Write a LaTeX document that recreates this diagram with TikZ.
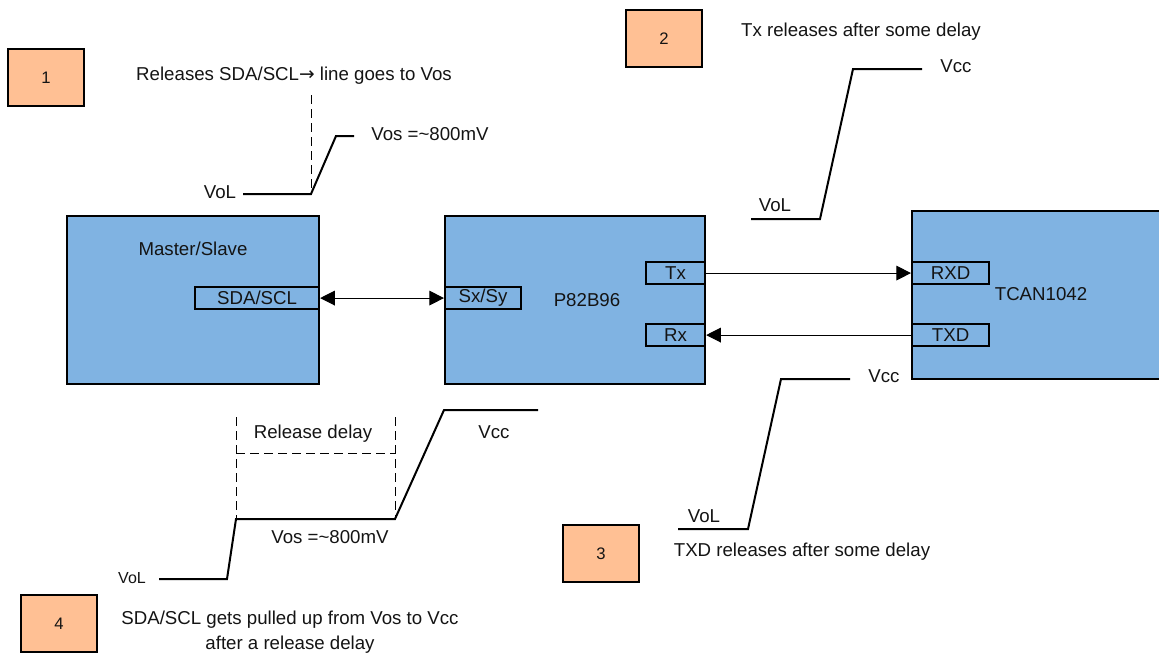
\documentclass[tikz,border=0pt]{standalone}
\usepackage{fontspec}
\setmainfont{Liberation Sans}
\usetikzlibrary{arrows.meta}
\definecolor{blockblue}{RGB}{128,179,226}
\definecolor{tagorange}{RGB}{255,192,148}
\definecolor{inktext}{RGB}{20,20,20}
\tikzset{
 wh/.style 2 args={minimum width=#1*0.75pt,minimum height=#2*0.75pt},
 blk/.style={draw=black,line width=1.5pt,fill=blockblue,inner sep=0,anchor=north west},
 pin/.style={draw=black,line width=1.6pt,fill=blockblue,inner sep=0,anchor=north west,text=inktext,font=\fontsize{14}{16}\selectfont},
 tag/.style={draw=black,line width=1.5pt,fill=tagorange,inner sep=0,anchor=north west,text=inktext,font=\fontsize{12.5}{14}\selectfont},
 lab/.style={inner sep=0,text=inktext,font=\fontsize{14}{16}\selectfont},
 smalllab/.style={inner sep=0,text=inktext,font=\fontsize{12}{14}\selectfont},
 wave/.style={line width=1.5pt,black},
 guide/.style={dash pattern=on 7pt off 3.5pt,line width=0.6pt,black},
 conn/.style={line width=0.8pt,-{Triangle[length=11pt,width=11pt]}},
 connb/.style={line width=0.8pt,{Triangle[length=11pt,width=11pt]}-{Triangle[length=11pt,width=11pt]}},
}
\begin{document}
\begin{tikzpicture}[x=0.75pt,y=-0.75pt]
\useasboundingbox (0,0) rectangle (1159,653);
% blocks
\node[blk,wh={252}{168}] (ms) at (66,215) {};
\node[blk,wh={260}{168}] (p8) at (444,215) {};
\node[blk,wh={262}{168}] (tc) at (911,210) {};
% pins
\node[pin,wh={124}{22}] (sda) at (194,286) {SDA/SCL};
\node[pin,wh={76}{22}] (sx) at (444,286) {Sx/Sy};
\node[pin,wh={59}{22}] (tx) at (645,261) {Tx};
\node[pin,wh={59}{22}] (rx) at (645,323) {Rx};
\node[pin,wh={77}{22}] (rxd) at (911,261) {RXD};
\node[pin,wh={77}{22}] (txd) at (911,323) {TXD};
% connectors
\draw[connb] (sda.east) -- (sx.west);
\draw[conn] (tx.east) -- (rxd.west);
\draw[conn] (txd.west) -- (rx.east);
% number tags
\node[tag,wh={76}{57}] (t1) at (7,48) {1};
\node[tag,wh={76}{57}] (t2) at (625,9) {2};
\node[tag,wh={76}{57}] (t3) at (562,524) {3};
\node[tag,wh={76}{57}] (t4) at (20,594) {4};
% block labels
\node[lab] (lms) at (193,249) {Master/Slave};
\node[lab] (lp8) at (587,300) {P82B96};
\node[lab] (ltc) at (1041,294) {TCAN1042};
% captions
\node[lab] (c1) at (294,76) {Releases SDA/SCL{\fontspec{DejaVu Sans}\fontsize{14}{14}\selectfont →} line goes to Vos};
\node[lab] (c2) at (861,32) {Tx releases after some delay};
\node[lab] (c3) at (802,552) {TXD releases after some delay};
\node[lab,align=center] (c4) at (290,632) {SDA/SCL gets pulled up from Vos to Vcc\\[3pt]after a release delay};
% waveform 1
\coordinate (w1a) at (243,194); \coordinate (w1b) at (311,194);
\coordinate (w1c) at (336,136); \coordinate (w1d) at (354,136);
\coordinate (g1) at (311,95);
\draw[wave] (w1a) -- (w1b) -- (w1c) -- (w1d);
\draw[guide] (g1) -- (w1b);
\node[lab] (v1l) at (220,192) {VoL};
\node[lab] (v1o) at (430,134) {Vos =\textasciitilde800mV};
% waveform 2
\coordinate (w2a) at (751,219); \coordinate (w2b) at (820,219);
\coordinate (w2c) at (853,69); \coordinate (w2d) at (922,69);
\draw[wave] (w2a) -- (w2b) -- (w2c) -- (w2d);
\node[lab] (v2l) at (775,205) {VoL};
\node[lab] (v2c) at (956,66) {Vcc};
% waveform 3
\coordinate (w3a) at (678,529); \coordinate (w3b) at (748,529);
\coordinate (w3c) at (781,379); \coordinate (w3d) at (850,379);
\draw[wave] (w3a) -- (w3b) -- (w3c) -- (w3d);
\node[lab] (v3l) at (704,516) {VoL};
\node[lab] (v3c) at (884,376) {Vcc};
% waveform 4
\coordinate (w4a) at (159,579); \coordinate (w4b) at (227,579);
\coordinate (w4c) at (236,519); \coordinate (w4d) at (395,519);
\coordinate (w4e) at (444,410); \coordinate (w4f) at (538,410);
\coordinate (g4a) at (236,417); \coordinate (g4b) at (395,417);
\coordinate (g4c) at (236,453); \coordinate (g4d) at (395,453);
\draw[wave] (w4a) -- (w4b) -- (w4c) -- (w4d) -- (w4e) -- (w4f);
\draw[guide] (g4a) -- (w4c);
\draw[guide] (g4b) -- (w4d);
\draw[guide] (g4c) -- (g4d);
\node[smalllab] (v4l) at (132,578) {VoL};
\node[lab] (v4o) at (330,537) {Vos =\textasciitilde800mV};
\node[lab] (v4c) at (494,432) {Vcc};
\node[lab] (rd) at (313,434) {Release delay};
\end{tikzpicture}
\end{document}
